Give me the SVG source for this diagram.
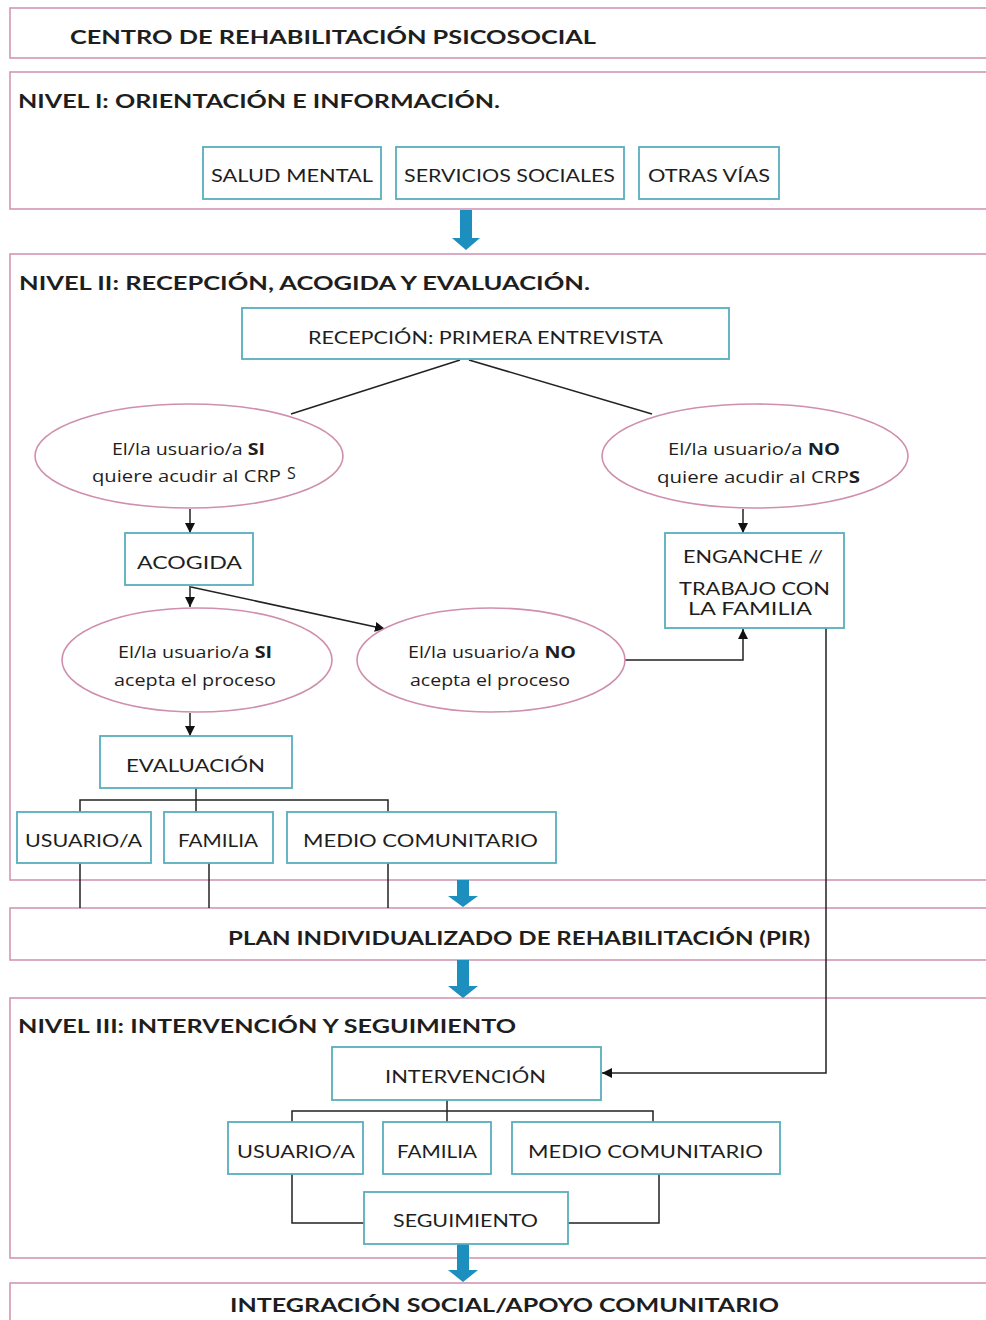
<svg xmlns="http://www.w3.org/2000/svg" width="986" height="1320" viewBox="0 0 986 1320">
<style>
text{font-family:Lato,"Liberation Sans",sans-serif;fill:#1e1e1e}
.sec{fill:none;stroke:#d397b4;stroke-width:1.6}
.box{fill:#fff;stroke:#58aebd;stroke-width:1.8}
.ell{fill:#fff;stroke:#cf8fad;stroke-width:1.6}
.ttl{font-size:18px;font-weight:700}
.bt{font-size:17px}
.et{font-family:"Open Sans","Liberation Sans",sans-serif;font-size:16px}
.b{font-weight:700}
.ln{fill:none;stroke:#222;stroke-width:1.5}
.blue{fill:#1d8fbf}
</style>
<defs>
<marker id="ah" viewBox="0 0 10 10" refX="10" refY="5" markerWidth="10" markerHeight="10" markerUnits="userSpaceOnUse" orient="auto">
<path d="M0,0 L10,5 L0,10 z" fill="#111"/>
</marker>
</defs>
<rect x="0" y="0" width="986" height="1320" fill="#fff"/>

<g id="sections">
<g id="sec-centro"><rect class="sec" x="10" y="8" width="990" height="50"/>
<text class="ttl" x="70" y="44" textLength="526" lengthAdjust="spacingAndGlyphs">CENTRO DE REHABILITACIÓN PSICOSOCIAL</text></g>
<g id="sec-nivel1"><rect class="sec" x="10" y="72" width="990" height="137"/>
<text class="ttl" x="18" y="108" textLength="482" lengthAdjust="spacingAndGlyphs">NIVEL I: ORIENTACIÓN E INFORMACIÓN.</text></g>
<g id="sec-nivel2"><rect class="sec" x="10" y="254" width="990" height="626"/>
<text class="ttl" x="19" y="290" textLength="571" lengthAdjust="spacingAndGlyphs">NIVEL II: RECEPCIÓN, ACOGIDA Y EVALUACIÓN.</text></g>
<g id="sec-pir"><rect class="sec" x="10" y="908" width="990" height="52"/>
<text class="ttl" x="228" y="945" textLength="582" lengthAdjust="spacingAndGlyphs">PLAN INDIVIDUALIZADO DE REHABILITACIÓN (PIR)</text></g>
<g id="sec-nivel3"><rect class="sec" x="10" y="998" width="990" height="260"/>
<text class="ttl" x="18" y="1033" textLength="498" lengthAdjust="spacingAndGlyphs">NIVEL III: INTERVENCIÓN Y SEGUIMIENTO</text></g>
<g id="sec-integracion"><rect class="sec" x="10" y="1283" width="990" height="60"/>
<text class="ttl" x="230" y="1312" textLength="549" lengthAdjust="spacingAndGlyphs">INTEGRACIÓN SOCIAL/APOYO COMUNITARIO</text></g>
</g>

<g id="connectors">
<line class="ln" x1="460" y1="360" x2="291" y2="414"/>
<line class="ln" x1="469" y1="360" x2="652" y2="414"/>
<line class="ln" x1="190" y1="509" x2="190" y2="533" marker-end="url(#ah)"/>
<line class="ln" x1="743" y1="509" x2="743" y2="533" marker-end="url(#ah)"/>
<line class="ln" x1="190" y1="586" x2="190" y2="607" marker-end="url(#ah)"/>
<line class="ln" x1="191" y1="587" x2="385" y2="629" marker-end="url(#ah)"/>
<line class="ln" x1="190" y1="713" x2="190" y2="736" marker-end="url(#ah)"/>
<polyline class="ln" points="625,660 743,660 743,629" marker-end="url(#ah)"/>
<line class="ln" x1="196" y1="788" x2="196" y2="812"/>
<polyline class="ln" points="80,812 80,800 388,800 388,812"/>
<line class="ln" x1="80" y1="863" x2="80" y2="908"/>
<line class="ln" x1="209" y1="863" x2="209" y2="908"/>
<line class="ln" x1="388" y1="863" x2="388" y2="908"/>
<polyline class="ln" points="826,628 826,1073 602,1073" marker-end="url(#ah)"/>
<line class="ln" x1="447" y1="1100" x2="447" y2="1122"/>
<polyline class="ln" points="292,1122 292,1111 653,1111 653,1122"/>
<polyline class="ln" points="292,1174 292,1223 364,1223"/>
<polyline class="ln" points="659,1174 659,1223 568,1223"/>
<path class="blue" d="M460,210 H472 V238 H480 L466,250 L452,238 H460 Z"/>
<path class="blue" d="M457,880 H469 V896 H478 L463,907 L448,896 H457 Z"/>
<path class="blue" d="M457,960 H469 V986 H478 L463,998 L448,986 H457 Z"/>
<path class="blue" d="M457,1244 H469 V1270 H478 L463,1282 L448,1270 H457 Z"/>
</g>

<g id="n-salud"><rect class="box" x="203" y="147" width="178" height="52"/>
<text class="bt" x="211" y="182" textLength="162" lengthAdjust="spacingAndGlyphs">SALUD MENTAL</text></g>
<g id="n-servicios"><rect class="box" x="396" y="147" width="228" height="52"/>
<text class="bt" x="404" y="182" textLength="211" lengthAdjust="spacingAndGlyphs">SERVICIOS SOCIALES</text></g>
<g id="n-otras"><rect class="box" x="639" y="147" width="140" height="52"/>
<text class="bt" x="648" y="182" textLength="122" lengthAdjust="spacingAndGlyphs">OTRAS VÍAS</text></g>

<g id="n-recepcion"><rect class="box" x="242" y="308" width="487" height="51"/>
<text class="bt" x="308" y="344" textLength="355" lengthAdjust="spacingAndGlyphs">RECEPCIÓN: PRIMERA ENTREVISTA</text></g>

<g id="n-si-quiere"><ellipse class="ell" cx="189" cy="456" rx="154" ry="52"/>
<text class="et" x="112" y="455" textLength="153" lengthAdjust="spacingAndGlyphs">El/la usuario/a <tspan class="b">SI</tspan></text>
<text class="et" x="92" y="482" textLength="189" lengthAdjust="spacingAndGlyphs">quiere acudir al CRP</text>
<text class="et" x="287" y="479">S</text></g>

<g id="n-no-quiere"><ellipse class="ell" cx="755" cy="456" rx="153" ry="52"/>
<text class="et" x="668" y="455" textLength="172" lengthAdjust="spacingAndGlyphs">El/la usuario/a <tspan class="b">NO</tspan></text>
<text class="et" x="657" y="483" textLength="203" lengthAdjust="spacingAndGlyphs">quiere acudir al CRP<tspan class="b">S</tspan></text></g>

<g id="n-acogida"><rect class="box" x="125" y="533" width="128" height="52"/>
<text class="bt" x="137" y="569" textLength="105" lengthAdjust="spacingAndGlyphs">ACOGIDA</text></g>

<g id="n-enganche"><rect class="box" x="665" y="533" width="179" height="95"/>
<text class="bt" x="683" y="563" textLength="140" lengthAdjust="spacingAndGlyphs">ENGANCHE //</text>
<text class="bt" x="679" y="595" textLength="151" lengthAdjust="spacingAndGlyphs">TRABAJO CON</text>
<text class="bt" x="688" y="615" textLength="124" lengthAdjust="spacingAndGlyphs">LA FAMILIA</text></g>

<g id="n-si-acepta"><ellipse class="ell" cx="197" cy="660" rx="135" ry="52"/>
<text class="et" x="118" y="658" textLength="154" lengthAdjust="spacingAndGlyphs">El/la usuario/a <tspan class="b">SI</tspan></text>
<text class="et" x="114" y="686" textLength="162" lengthAdjust="spacingAndGlyphs">acepta el proceso</text></g>

<g id="n-no-acepta"><ellipse class="ell" cx="491" cy="660" rx="134" ry="52"/>
<text class="et" x="408" y="658" textLength="168" lengthAdjust="spacingAndGlyphs">El/la usuario/a <tspan class="b">NO</tspan></text>
<text class="et" x="410" y="686" textLength="160" lengthAdjust="spacingAndGlyphs">acepta el proceso</text></g>

<g id="n-evaluacion"><rect class="box" x="100" y="736" width="192" height="52"/>
<text class="bt" x="126" y="772" textLength="139" lengthAdjust="spacingAndGlyphs">EVALUACIÓN</text></g>

<g id="n-usuario1"><rect class="box" x="17" y="812" width="134" height="51"/>
<text class="bt" x="25" y="847" textLength="117" lengthAdjust="spacingAndGlyphs">USUARIO/A</text></g>
<g id="n-familia1"><rect class="box" x="164" y="812" width="109" height="51"/>
<text class="bt" x="178" y="847" textLength="80" lengthAdjust="spacingAndGlyphs">FAMILIA</text></g>
<g id="n-medio1"><rect class="box" x="287" y="812" width="269" height="51"/>
<text class="bt" x="303" y="847" textLength="235" lengthAdjust="spacingAndGlyphs">MEDIO COMUNITARIO</text></g>

<g id="n-intervencion"><rect class="box" x="332" y="1047" width="269" height="53"/>
<text class="bt" x="385" y="1083" textLength="161" lengthAdjust="spacingAndGlyphs">INTERVENCIÓN</text></g>

<g id="n-usuario2"><rect class="box" x="228" y="1122" width="135" height="52"/>
<text class="bt" x="237" y="1158" textLength="118" lengthAdjust="spacingAndGlyphs">USUARIO/A</text></g>
<g id="n-familia2"><rect class="box" x="383" y="1122" width="108" height="52"/>
<text class="bt" x="397" y="1158" textLength="80" lengthAdjust="spacingAndGlyphs">FAMILIA</text></g>
<g id="n-medio2"><rect class="box" x="512" y="1122" width="268" height="52"/>
<text class="bt" x="528" y="1158" textLength="235" lengthAdjust="spacingAndGlyphs">MEDIO COMUNITARIO</text></g>

<g id="n-seguimiento"><rect class="box" x="364" y="1192" width="204" height="52"/>
<text class="bt" x="393" y="1227" textLength="145" lengthAdjust="spacingAndGlyphs">SEGUIMIENTO</text></g>
</svg>
